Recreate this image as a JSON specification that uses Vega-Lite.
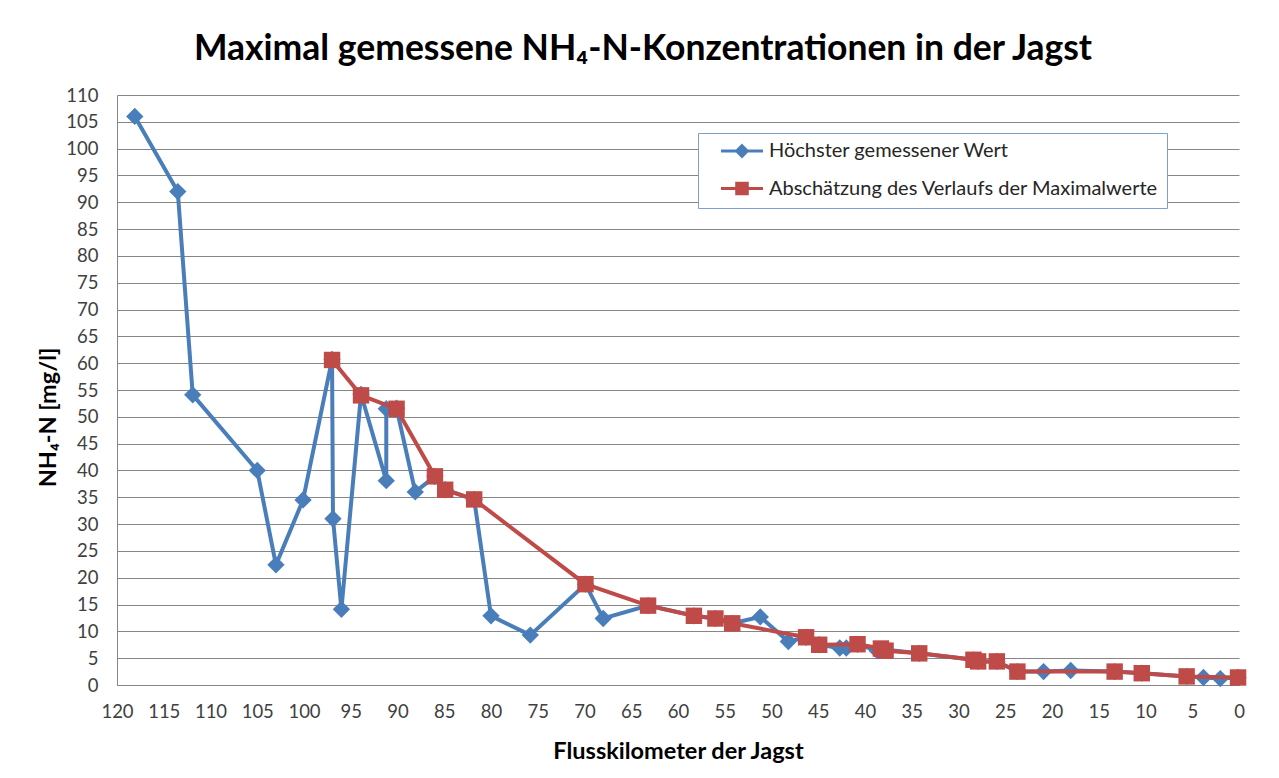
{
  "$schema": "https://vega.github.io/schema/vega-lite/v6.json",
  "width": 1122,
  "height": 590,
  "autosize": {"type": "none"},
  "padding": {"left": 117, "top": 95, "right": 40, "bottom": 93},
  "background": "white",
  "title": {
    "text": "Maximal gemessene NH₄-N-Konzentrationen in der Jagst",
    "font": "Lato",
    "fontSize": 35.5,
    "fontWeight": "bold",
    "color": "#000000",
    "anchor": "middle",
    "frame": "group",
    "dx": -35,
    "dy": 45,
    "baseline": "alphabetic",
    "offset": 36
  },
  "config": {
    "view": {"stroke": null},
    "axis": {
      "labelFont": "Lato",
      "labelFontSize": 18.5,
      "labelColor": "#404040",
      "titleFont": "Lato",
      "titleFontSize": 23.5,
      "titleFontWeight": "bold",
      "titleColor": "#000000",
      "domainColor": "#868686",
      "domainWidth": 1,
      "gridColor": "#868686",
      "gridWidth": 1,
      "gridOpacity": 1,
      "ticks": false
    },
    "legend": {
      "orient": "none",
      "legendX": 581,
      "legendY": 38,
      "padding": 8,
      "strokeColor": "#7f9fcf",
      "fillColor": "white",
      "symbolSize": 289,
      "symbolOffset": 26,
      "labelOffset": 17,
      "rowPadding": 13.5,
      "labelFont": "Lato",
      "labelFontSize": 20,
      "labelColor": "#262626",
      "labelLimit": 600,
      "symbolStrokeWidth": 3
    }
  },
  "data": {
    "values": [
      {"series": "Höchster gemessener Wert", "i": 1, "km": 118.1, "value": 106.0},
      {"series": "Höchster gemessener Wert", "i": 2, "km": 113.5, "value": 92.0},
      {"series": "Höchster gemessener Wert", "i": 3, "km": 111.9, "value": 54.1},
      {"series": "Höchster gemessener Wert", "i": 4, "km": 105.0, "value": 40.0},
      {"series": "Höchster gemessener Wert", "i": 5, "km": 103.0, "value": 22.4},
      {"series": "Höchster gemessener Wert", "i": 6, "km": 100.1, "value": 34.5},
      {"series": "Höchster gemessener Wert", "i": 7, "km": 97.0, "value": 60.7},
      {"series": "Höchster gemessener Wert", "i": 8, "km": 96.9, "value": 31.0},
      {"series": "Höchster gemessener Wert", "i": 9, "km": 96.0, "value": 14.1},
      {"series": "Höchster gemessener Wert", "i": 10, "km": 93.9, "value": 54.2},
      {"series": "Höchster gemessener Wert", "i": 11, "km": 91.2, "value": 38.1},
      {"series": "Höchster gemessener Wert", "i": 12, "km": 91.2, "value": 51.5},
      {"series": "Höchster gemessener Wert", "i": 13, "km": 90.1, "value": 51.6},
      {"series": "Höchster gemessener Wert", "i": 14, "km": 88.1, "value": 36.0},
      {"series": "Höchster gemessener Wert", "i": 15, "km": 86.0, "value": 38.9},
      {"series": "Höchster gemessener Wert", "i": 16, "km": 84.9, "value": 36.4},
      {"series": "Höchster gemessener Wert", "i": 17, "km": 81.8, "value": 34.6},
      {"series": "Höchster gemessener Wert", "i": 18, "km": 80.0, "value": 12.9},
      {"series": "Höchster gemessener Wert", "i": 19, "km": 75.8, "value": 9.3},
      {"series": "Höchster gemessener Wert", "i": 20, "km": 69.9, "value": 18.8},
      {"series": "Höchster gemessener Wert", "i": 21, "km": 68.0, "value": 12.4},
      {"series": "Höchster gemessener Wert", "i": 22, "km": 63.2, "value": 14.8},
      {"series": "Höchster gemessener Wert", "i": 23, "km": 58.3, "value": 12.9},
      {"series": "Höchster gemessener Wert", "i": 24, "km": 56.0, "value": 12.4},
      {"series": "Höchster gemessener Wert", "i": 25, "km": 54.2, "value": 11.5},
      {"series": "Höchster gemessener Wert", "i": 26, "km": 51.2, "value": 12.7},
      {"series": "Höchster gemessener Wert", "i": 27, "km": 48.2, "value": 8.1},
      {"series": "Höchster gemessener Wert", "i": 28, "km": 46.3, "value": 8.9},
      {"series": "Höchster gemessener Wert", "i": 29, "km": 44.9, "value": 7.5},
      {"series": "Höchster gemessener Wert", "i": 30, "km": 42.7, "value": 6.9},
      {"series": "Höchster gemessener Wert", "i": 31, "km": 42.0, "value": 6.9},
      {"series": "Höchster gemessener Wert", "i": 32, "km": 40.8, "value": 7.6},
      {"series": "Höchster gemessener Wert", "i": 33, "km": 38.7, "value": 6.4},
      {"series": "Höchster gemessener Wert", "i": 34, "km": 38.0, "value": 6.6},
      {"series": "Höchster gemessener Wert", "i": 35, "km": 34.2, "value": 5.9},
      {"series": "Höchster gemessener Wert", "i": 36, "km": 28.4, "value": 4.7},
      {"series": "Höchster gemessener Wert", "i": 37, "km": 27.9, "value": 4.4},
      {"series": "Höchster gemessener Wert", "i": 38, "km": 25.9, "value": 4.4},
      {"series": "Höchster gemessener Wert", "i": 39, "km": 23.7, "value": 2.5},
      {"series": "Höchster gemessener Wert", "i": 40, "km": 20.9, "value": 2.5},
      {"series": "Höchster gemessener Wert", "i": 41, "km": 18.0, "value": 2.7},
      {"series": "Höchster gemessener Wert", "i": 42, "km": 13.3, "value": 2.5},
      {"series": "Höchster gemessener Wert", "i": 43, "km": 10.4, "value": 2.2},
      {"series": "Höchster gemessener Wert", "i": 44, "km": 5.6, "value": 1.6},
      {"series": "Höchster gemessener Wert", "i": 45, "km": 3.8, "value": 1.4},
      {"series": "Höchster gemessener Wert", "i": 46, "km": 2.0, "value": 1.2},
      {"series": "Höchster gemessener Wert", "i": 47, "km": 0.1, "value": 1.4},
      {"series": "Abschätzung des Verlaufs der Maximalwerte", "i": 1, "km": 97.0, "value": 60.6},
      {"series": "Abschätzung des Verlaufs der Maximalwerte", "i": 2, "km": 93.9, "value": 54.0},
      {"series": "Abschätzung des Verlaufs der Maximalwerte", "i": 3, "km": 90.1, "value": 51.5},
      {"series": "Abschätzung des Verlaufs der Maximalwerte", "i": 4, "km": 86.0, "value": 38.9},
      {"series": "Abschätzung des Verlaufs der Maximalwerte", "i": 5, "km": 84.9, "value": 36.4},
      {"series": "Abschätzung des Verlaufs der Maximalwerte", "i": 6, "km": 81.8, "value": 34.6},
      {"series": "Abschätzung des Verlaufs der Maximalwerte", "i": 7, "km": 69.9, "value": 18.8},
      {"series": "Abschätzung des Verlaufs der Maximalwerte", "i": 8, "km": 63.2, "value": 14.8},
      {"series": "Abschätzung des Verlaufs der Maximalwerte", "i": 9, "km": 58.3, "value": 12.9},
      {"series": "Abschätzung des Verlaufs der Maximalwerte", "i": 10, "km": 56.0, "value": 12.4},
      {"series": "Abschätzung des Verlaufs der Maximalwerte", "i": 11, "km": 54.2, "value": 11.5},
      {"series": "Abschätzung des Verlaufs der Maximalwerte", "i": 12, "km": 46.3, "value": 8.9},
      {"series": "Abschätzung des Verlaufs der Maximalwerte", "i": 13, "km": 44.9, "value": 7.5},
      {"series": "Abschätzung des Verlaufs der Maximalwerte", "i": 14, "km": 40.8, "value": 7.6},
      {"series": "Abschätzung des Verlaufs der Maximalwerte", "i": 15, "km": 38.3, "value": 6.8},
      {"series": "Abschätzung des Verlaufs der Maximalwerte", "i": 16, "km": 37.8, "value": 6.4},
      {"series": "Abschätzung des Verlaufs der Maximalwerte", "i": 17, "km": 34.2, "value": 5.9},
      {"series": "Abschätzung des Verlaufs der Maximalwerte", "i": 18, "km": 28.4, "value": 4.7},
      {"series": "Abschätzung des Verlaufs der Maximalwerte", "i": 19, "km": 27.9, "value": 4.4},
      {"series": "Abschätzung des Verlaufs der Maximalwerte", "i": 20, "km": 25.9, "value": 4.4},
      {"series": "Abschätzung des Verlaufs der Maximalwerte", "i": 21, "km": 23.7, "value": 2.5},
      {"series": "Abschätzung des Verlaufs der Maximalwerte", "i": 22, "km": 13.3, "value": 2.5},
      {"series": "Abschätzung des Verlaufs der Maximalwerte", "i": 23, "km": 10.4, "value": 2.2},
      {"series": "Abschätzung des Verlaufs der Maximalwerte", "i": 24, "km": 5.6, "value": 1.6},
      {"series": "Abschätzung des Verlaufs der Maximalwerte", "i": 25, "km": 0.1, "value": 1.4}
    ]
  },
  "encoding": {
    "x": {
      "field": "km",
      "type": "quantitative",
      "scale": {"domain": [0, 120], "reverse": true, "nice": false, "zero": false},
      "axis": {
        "title": "Flusskilometer der Jagst",
        "values": [0, 5, 10, 15, 20, 25, 30, 35, 40, 45, 50, 55, 60, 65, 70, 75, 80, 85, 90, 95, 100, 105, 110, 115, 120],
        "grid": false,
        "labelPadding": 17,
        "labelFlush": false,
        "labelOverlap": false,
        "titlePadding": 19
      }
    },
    "y": {
      "field": "value",
      "type": "quantitative",
      "scale": {"domain": [0, 110], "nice": false},
      "axis": {
        "title": "NH₄-N [mg/l]",
        "values": [0, 5, 10, 15, 20, 25, 30, 35, 40, 45, 50, 55, 60, 65, 70, 75, 80, 85, 90, 95, 100, 105, 110],
        "grid": true,
        "labelPadding": 19,
        "labelOverlap": false,
        "titleAngle": -90,
        "titleAlign": "center",
        "titleBaseline": "middle",
        "titleX": -69,
        "titleY": 322
      }
    },
    "color": {
      "field": "series",
      "type": "nominal",
      "scale": {
        "domain": ["Höchster gemessener Wert", "Abschätzung des Verlaufs der Maximalwerte"],
        "range": ["#4a7ebb", "#be4b48"]
      },
      "legend": {
        "title": null,
        "encode": {
          "symbols": {
            "update": {
              "shape": {"signal": "datum.value == 'Höchster gemessener Wert' ? 'M-2.47,0L2.47,0M0,-0.62L0.62,0L0,0.62L-0.62,0Z' : 'M-2.47,0L2.47,0M-0.62,-0.62L0.62,-0.62L0.62,0.62L-0.62,0.62Z'"},
              "fill": {"scale": "color", "field": "value"},
              "stroke": {"scale": "color", "field": "value"},
              "strokeWidth": {"value": 3},
              "opacity": {"value": 1},
              "fillOpacity": {"value": 1}
            }
          }
        }
      }
    },
    "order": {"field": "i", "type": "quantitative"}
  },
  "layer": [
    {
      "transform": [{"filter": "datum.series == 'Höchster gemessener Wert'"}],
      "mark": {
        "type": "line",
        "strokeWidth": 4,
        "point": {"shape": "diamond", "size": 300, "filled": true, "strokeWidth": 1}
      }
    },
    {
      "transform": [{"filter": "datum.series == 'Abschätzung des Verlaufs der Maximalwerte'"}],
      "mark": {
        "type": "line",
        "strokeWidth": 4,
        "point": {"shape": "square", "size": 270, "filled": true, "strokeWidth": 1}
      }
    }
  ]
}
